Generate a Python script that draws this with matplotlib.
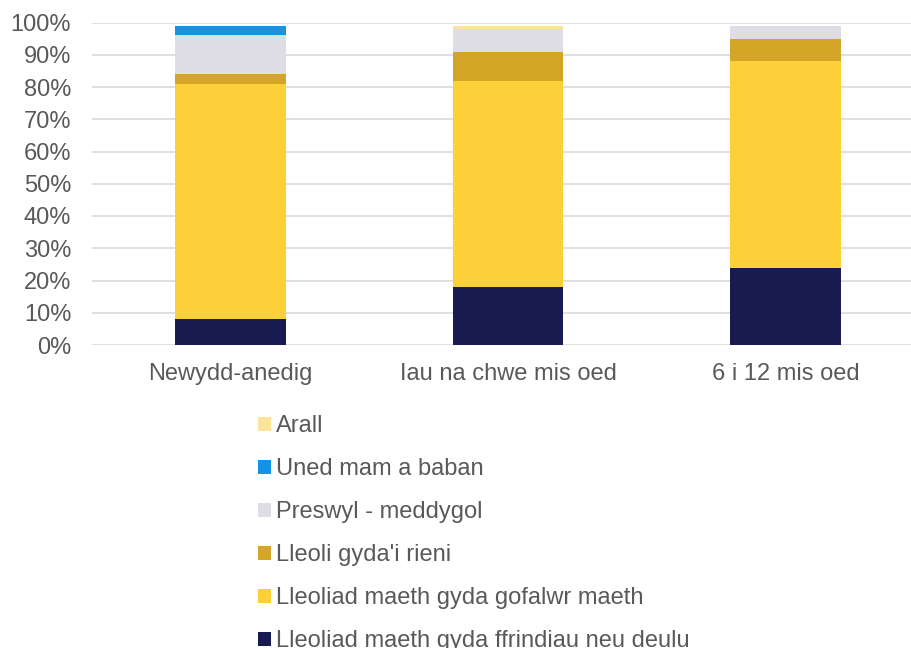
import numpy as np
import matplotlib.pyplot as plt
from matplotlib.patches import Patch

plt.rcParams['font.family'] = ['Liberation Sans', 'DejaVu Sans']

# =========================
# DATA
# =========================
categories = ["Newydd-anedig", "Iau na chwe mis oed", "6 i 12 mis oed"]
series_names = [
    "Lleoliad maeth gyda ffrindiau neu deulu",
    "Lleoliad maeth gyda gofalwr maeth",
    "Lleoli gyda'i rieni",
    "Preswyl - meddygol",
    "Uned mam a baban",
    "Arall",
]
ffrindiau = [8, 18, 24]
gofalwr = [73, 64, 64]
rhieni = [3, 9, 7]
preswyl = [12, 7, 4]
uned = [3, 0, 0]
arall = [0, 1, 0]

colors = ["#171B4F", "#FDD03A", "#D4A526", "#DEDDE6", "#1592E5", "#FDE49A"]
text_col = "#595959"
fs = 17

# =========================
# PLOT
# =========================
fig = plt.figure(figsize=(9.11, 6.48), dpi=100)
ax = fig.add_axes([92 / 911, (648 - 345) / 648, 832 / 911, 322.5 / 648])

x = np.arange(len(categories))
bottom = np.zeros(len(categories))
for vals, col in zip([ffrindiau, gofalwr, rhieni, preswyl, uned, arall], colors):
    ax.bar(x, vals, width=0.4, bottom=bottom, color=col, zorder=3)
    bottom += np.array(vals)

ax.set_xlim(-0.5, 2.5)
ax.set_ylim(0, 100)
ax.set_yticks(np.arange(0, 101, 10))
ax.set_yticklabels([f"{v}%" for v in range(0, 101, 10)])
ax.set_xticks(x)
ax.set_xticklabels(categories)
ax.tick_params(axis='both', length=0, labelsize=fs, labelcolor=text_col)
ax.tick_params(axis='y', pad=15)
ax.tick_params(axis='x', pad=13)
ax.grid(axis='y', color="#D9D9D9", linewidth=1.2, zorder=0)
for s in ax.spines.values():
    s.set_visible(False)

handles = [Patch(facecolor=c, edgecolor='none') for c in colors]
fig.legend(handles[::-1], series_names[::-1], loc='upper left',
           bbox_to_anchor=(258 / 911, 1 - 415 / 648), frameon=False,
           fontsize=fs, labelcolor=text_col, handlelength=0.55,
           handleheight=0.55, handletextpad=0.22, labelspacing=0.89,
           borderpad=0, borderaxespad=0)

plt.savefig("out.png", dpi=100)
